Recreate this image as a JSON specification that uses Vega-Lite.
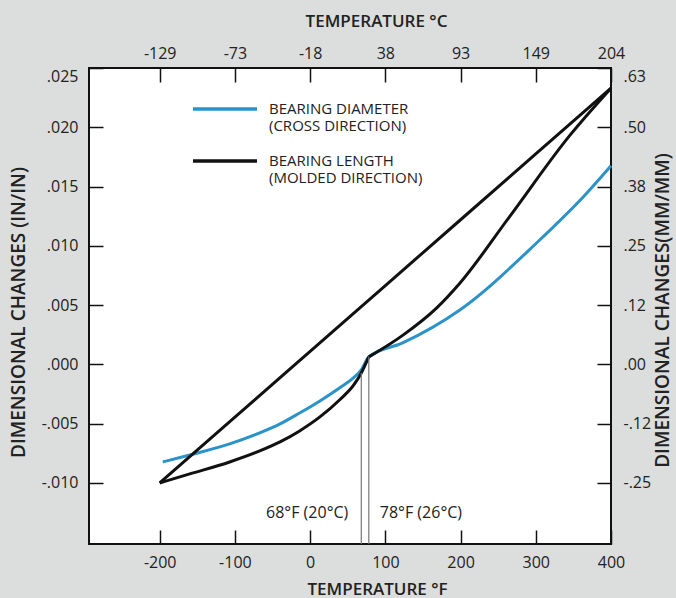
{
  "$schema": "https://vega.github.io/schema/vega-lite/v6.json",
  "width": 522,
  "height": 476,
  "autosize": {"type": "none"},
  "padding": {"left": 89, "top": 68, "right": 65, "bottom": 54},
  "background": "#dcdddd",
  "config": {
    "view": {"fill": "white", "stroke": "#111", "strokeWidth": 2},
    "font": "Open Sans",
    "axis": {
      "domain": false,
      "grid": false,
      "tickColor": "#111",
      "tickWidth": 1.5,
      "tickSize": -14,
      "labelFont": "Open Sans",
      "labelFontSize": 16,
      "labelColor": "#222",
      "titleFont": "Open Sans",
      "titleFontSize": 17,
      "titleFontWeight": 600,
      "titleColor": "#222"
    }
  },
  "datasets": {
    "curves": [
      {"series": "BEARING DIAMETER", "branch": "d", "tempF": -196, "change": -0.00823},
      {"series": "BEARING DIAMETER", "branch": "d", "tempF": -160, "change": -0.00764},
      {"series": "BEARING DIAMETER", "branch": "d", "tempF": -107, "change": -0.00671},
      {"series": "BEARING DIAMETER", "branch": "d", "tempF": -67, "change": -0.00578},
      {"series": "BEARING DIAMETER", "branch": "d", "tempF": -40, "change": -0.00502},
      {"series": "BEARING DIAMETER", "branch": "d", "tempF": -14, "change": -0.0041},
      {"series": "BEARING DIAMETER", "branch": "d", "tempF": 13, "change": -0.00308},
      {"series": "BEARING DIAMETER", "branch": "d", "tempF": 39, "change": -0.00199},
      {"series": "BEARING DIAMETER", "branch": "d", "tempF": 59, "change": -0.00106},
      {"series": "BEARING DIAMETER", "branch": "d", "tempF": 68, "change": -0.00047},
      {"series": "BEARING DIAMETER", "branch": "d", "tempF": 78, "change": 0.00063},
      {"series": "BEARING DIAMETER", "branch": "d", "tempF": 123, "change": 0.00181},
      {"series": "BEARING DIAMETER", "branch": "d", "tempF": 199, "change": 0.00459},
      {"series": "BEARING DIAMETER", "branch": "d", "tempF": 301, "change": 0.01024},
      {"series": "BEARING DIAMETER", "branch": "d", "tempF": 368, "change": 0.01446},
      {"series": "BEARING DIAMETER", "branch": "d", "tempF": 400, "change": 0.01675},
      {"series": "BEARING LENGTH", "branch": "upper", "tempF": -200, "change": -0.01},
      {"series": "BEARING LENGTH", "branch": "upper", "tempF": -100, "change": -0.00445},
      {"series": "BEARING LENGTH", "branch": "upper", "tempF": 0, "change": 0.0011},
      {"series": "BEARING LENGTH", "branch": "upper", "tempF": 100, "change": 0.00665},
      {"series": "BEARING LENGTH", "branch": "upper", "tempF": 200, "change": 0.0122},
      {"series": "BEARING LENGTH", "branch": "upper", "tempF": 300, "change": 0.01775},
      {"series": "BEARING LENGTH", "branch": "upper", "tempF": 400, "change": 0.0233},
      {"series": "BEARING LENGTH", "branch": "middle", "tempF": 78, "change": 0.00063},
      {"series": "BEARING LENGTH", "branch": "middle", "tempF": 123, "change": 0.00245},
      {"series": "BEARING LENGTH", "branch": "middle", "tempF": 168, "change": 0.00475},
      {"series": "BEARING LENGTH", "branch": "middle", "tempF": 199, "change": 0.00685},
      {"series": "BEARING LENGTH", "branch": "middle", "tempF": 265, "change": 0.01245},
      {"series": "BEARING LENGTH", "branch": "middle", "tempF": 345, "change": 0.0193},
      {"series": "BEARING LENGTH", "branch": "middle", "tempF": 400, "change": 0.0233},
      {"series": "BEARING LENGTH", "branch": "lower", "tempF": -200, "change": -0.01},
      {"series": "BEARING LENGTH", "branch": "lower", "tempF": -160, "change": -0.00924},
      {"series": "BEARING LENGTH", "branch": "lower", "tempF": -107, "change": -0.00823},
      {"series": "BEARING LENGTH", "branch": "lower", "tempF": -67, "change": -0.0073},
      {"series": "BEARING LENGTH", "branch": "lower", "tempF": -40, "change": -0.00654},
      {"series": "BEARING LENGTH", "branch": "lower", "tempF": -14, "change": -0.00561},
      {"series": "BEARING LENGTH", "branch": "lower", "tempF": 13, "change": -0.00443},
      {"series": "BEARING LENGTH", "branch": "lower", "tempF": 39, "change": -0.003},
      {"series": "BEARING LENGTH", "branch": "lower", "tempF": 59, "change": -0.00165},
      {"series": "BEARING LENGTH", "branch": "lower", "tempF": 68, "change": -0.00072},
      {"series": "BEARING LENGTH", "branch": "lower", "tempF": 78, "change": 0.00063}
    ],
    "marks": [
      {"t": 68, "v": -0.00072, "label": "68°F (20°C)"},
      {"t": 78, "v": 0.00063, "label": "78°F (26°C)"}
    ]
  },
  "layer": [
    {
      "data": {"name": "curves"},
      "mark": {"type": "line", "interpolate": "monotone", "strokeWidth": 3},
      "encoding": {
        "x": {
          "field": "tempF", "type": "quantitative",
          "scale": {"domain": [-294, 400], "nice": false, "zero": false},
          "axis": {
            "orient": "bottom",
            "values": [-200, -100, 0, 100, 200, 300, 400],
            "labelExpr": "'' + datum.value",
            "labelFlush": false,
            "labelPadding": 24,
            "labelBaseline": "top",
            "title": "TEMPERATURE °F",
            "titleX": 288, "titleY": 45, "titleBaseline": "middle", "titleAlign": "center"
          }
        },
        "y": {
          "field": "change", "type": "quantitative",
          "scale": {"domain": [-0.01515, 0.025], "nice": false, "zero": false},
          "axis": {
            "orient": "left",
            "values": [-0.01, -0.005, 0, 0.005, 0.01, 0.015, 0.02, 0.025],
            "labelExpr": "(datum.value < -0.000001 ? '-' : '') + replace(format(abs(datum.value), '.3f'), '0.', '.')",
            "labelFlush": true,
            "labelFlushOffset": 0,
            "labelPadding": 25,
            "title": "DIMENSIONAL CHANGES (IN/IN)",
            "titleFontSize": 19,
            "titleAngle": 270,
            "titleX": -71, "titleY": 244, "titleBaseline": "middle", "titleAlign": "center"
          }
        },
        "color": {
          "field": "series", "type": "nominal",
          "scale": {"domain": ["BEARING DIAMETER", "BEARING LENGTH"], "range": ["#2b93c8", "#111111"]},
          "legend": {
            "orient": "none",
            "legendX": 126,
            "legendY": 31,
            "title": null,
            "padding": 0,
            "symbolType": "M-4,0H4",
            "symbolSize": 256,
            "symbolStrokeWidth": 3.5,
            "labelFont": "Open Sans",
            "labelFontSize": 15,
            "labelColor": "#222",
            "labelOffset": 34,
            "labelLimit": 300,
            "labelBaseline": "middle",
            "rowPadding": 17,
            "labelExpr": "datum.label == 'BEARING DIAMETER' ? ['BEARING DIAMETER', '(CROSS DIRECTION)'] : ['BEARING LENGTH', '(MOLDED DIRECTION)']"
          }
        },
        "detail": {"field": "branch"}
      }
    },
    {
      "data": {"name": "marks"},
      "mark": {"type": "rule", "color": "#777", "strokeWidth": 1.2},
      "encoding": {
        "x": {
          "field": "t", "type": "quantitative",
          "axis": {
            "orient": "top",
            "values": [-200, -100, 0, 100, 200, 300, 400],
            "labelExpr": "'' + round((datum.value - 32) / 1.8)",
            "labelFlush": false,
            "labelPadding": 21,
            "title": "TEMPERATURE °C",
            "titleX": 287, "titleY": -47, "titleBaseline": "middle", "titleAlign": "center"
          }
        },
        "y": {
          "field": "v", "type": "quantitative",
          "axis": {
            "orient": "right",
            "values": [-0.01, -0.005, 0, 0.005, 0.01, 0.015, 0.02, 0.025],
            "labelExpr": "(datum.value < -0.000001 ? '-' : '') + replace(format(floor(abs(datum.value) * 2540 + 0.000001) / 100, '.2f'), '0.', '.')",
            "labelFlush": true,
            "labelFlushOffset": 0,
            "labelPadding": 26,
            "title": "DIMENSIONAL CHANGES(MM/MM)",
            "titleFontSize": 19,
            "titleAngle": 270,
            "titleX": 51, "titleY": 242, "titleBaseline": "middle", "titleAlign": "center"
          }
        },
        "y2": {"datum": -0.01515}
      }
    },
    {
      "data": {"name": "marks"},
      "transform": [{"filter": "datum.t == 68"}],
      "mark": {"type": "text", "align": "right", "baseline": "middle", "dx": -13, "fontSize": 16, "font": "Open Sans", "color": "#222"},
      "encoding": {
        "x": {"field": "t", "type": "quantitative", "axis": null},
        "y": {"datum": -0.01254, "axis": null},
        "text": {"field": "label"}
      }
    },
    {
      "data": {"name": "marks"},
      "transform": [{"filter": "datum.t == 78"}],
      "mark": {"type": "text", "align": "left", "baseline": "middle", "dx": 11, "fontSize": 16, "font": "Open Sans", "color": "#222"},
      "encoding": {
        "x": {"field": "t", "type": "quantitative", "axis": null},
        "y": {"datum": -0.01254, "axis": null},
        "text": {"field": "label"}
      }
    }
  ],
  "resolve": {"axis": {"x": "independent", "y": "independent"}}
}
